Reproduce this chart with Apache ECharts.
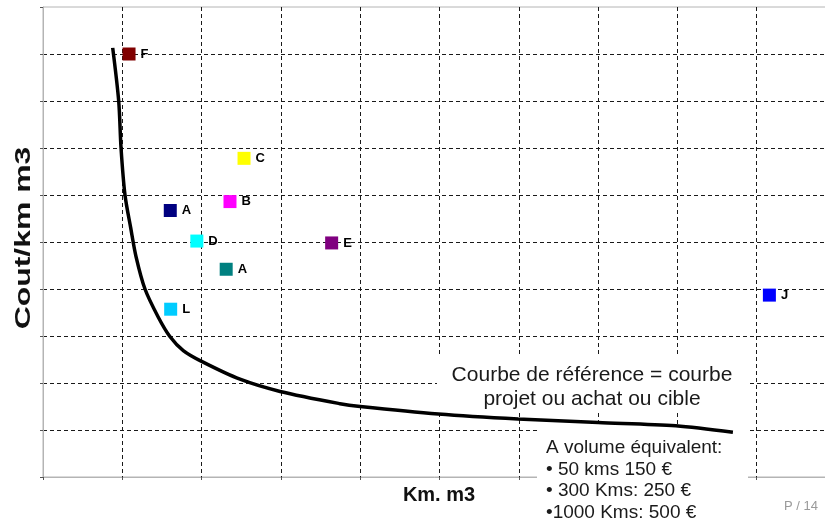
<!DOCTYPE html>
<html>
<head>
<meta charset="utf-8">
<script src="https://cdn.jsdelivr.net/npm/echarts@6/dist/echarts.min.js"></script>
<style>
  html, body { margin: 0; padding: 0; background: #fff; }
  #chart { width: 825px; height: 518px; }
</style>
</head>
<body>
<div id="chart"></div>
<script>
// Supplier / project points: volume (Km. m3) vs unit cost (Cout/km m3), in grid units
const pointNames = ['F', 'A', 'D', 'L', 'C', 'B', 'A', 'E', 'J'];
const pointX = [1.085, 1.605, 1.94, 1.61, 2.535, 2.358, 2.31, 3.64, 9.16];
const pointY = [9.0, 5.67, 5.02, 3.57, 6.78, 5.86, 4.42, 4.98, 3.87];

// Reference curve (projet / achat / cible)
const curveX = [0.879, 0.955, 0.984, 1.034, 1.106, 1.173, 1.286, 1.454, 1.6, 1.769, 2.0, 2.484, 2.99, 3.745, 4.0, 4.985, 5.99, 7.0, 7.98, 8.7];
const curveY = [9.13, 7.99, 7.0, 6.0, 5.3, 4.69, 4.0, 3.4, 2.99, 2.69, 2.46, 2.08, 1.82, 1.56, 1.5, 1.34, 1.234, 1.16, 1.09, 0.95];

// Axis ticks (no labels shown, gridlines only)
const xTicks = [0, 10, 1];
const yTicks = [0, 10, 1];

const markerColors = ['#800000', '#000080', '#00ffff', '#00ccff', '#ffff00', '#ff00ff', '#008080', '#800080', '#0000ff'];

const chart = echarts.init(document.getElementById('chart'), null, { renderer: 'canvas' });

const gridLine = { show: true, showMinLine: false, showMaxLine: false, lineStyle: { color: '#1a1a1a', type: [4, 3], width: 1 } };
const frame = { show: true, lineStyle: { color: '#b4b4b4', width: 1 } };

chart.setOption({
  backgroundColor: '#ffffff',
  animation: false,
  grid: {
    left: 43, top: 7, width: 793, height: 470,
    outerBoundsMode: 'none', containLabel: false,
    show: true, borderColor: '#b4b4b4', borderWidth: 1, backgroundColor: 'transparent'
  },
  xAxis: {
    type: 'value', min: xTicks[0], max: xTicks[1], interval: xTicks[2],
    axisLine: frame, axisLabel: { show: false },
    axisTick: { show: true, length: 3, lineStyle: { color: '#555' } },
    splitLine: gridLine
  },
  yAxis: {
    type: 'value', min: yTicks[0], max: yTicks[1], interval: yTicks[2],
    axisLine: frame, axisLabel: { show: false },
    axisTick: { show: true, length: 3, lineStyle: { color: '#555' } },
    splitLine: gridLine
  },
  series: [
    {
      type: 'line',
      data: curveX.map((x, i) => [x, curveY[i]]),
      smooth: 0.3,
      showSymbol: false,
      z: 5,
      lineStyle: { color: '#000', width: 3.5 }
    },
    {
      type: 'scatter',
      symbol: 'rect',
      symbolSize: 13,
      z: 6,
      itemStyle: { opacity: 1 },
      data: pointNames.map((n, i) => ({
        name: n,
        value: [pointX[i], pointY[i]],
        itemStyle: { color: markerColors[i], opacity: 1 }
      })),
      label: {
        show: true, position: 'right', distance: 5,
        formatter: p => p.name,
        color: '#000', fontWeight: 'bold', fontSize: 13,
        fontFamily: 'Liberation Sans, Arial, sans-serif'
      }
    }
  ],
  graphic: [
    { type: 'rect', z: 3, shape: { x: 437, y: 355, width: 311, height: 58 }, style: { fill: '#fff' } },
    { type: 'rect', z: 3, shape: { x: 537, y: 425, width: 211, height: 100 }, style: { fill: '#fff' } },
    {
      type: 'text', z: 7, x: 592, y: 363,
      style: {
        text: 'Courbe de référence = courbe\nprojet ou achat ou cible',
        fill: '#1a1a1a', font: '21px "Liberation Sans", Arial, sans-serif',
        align: 'center', lineHeight: 24
      }
    },
    {
      type: 'text', z: 7, x: 546, y: 437,
      style: {
        text: 'A volume équivalent:\n• 50 kms 150 €\n• 300 Kms: 250 €\n•1000 Kms: 500 €',
        fill: '#1a1a1a', font: '19px "Liberation Sans", Arial, sans-serif',
        align: 'left', lineHeight: 21.7
      }
    },
    {
      type: 'text', z: 7, x: 439, y: 495,
      style: {
        text: 'Km. m3', fill: '#111', font: 'bold 20px "Liberation Sans", Arial, sans-serif',
        align: 'center', verticalAlign: 'middle'
      }
    },
    {
      type: 'text', z: 7, x: 24, y: 238, rotation: Math.PI / 2, scaleX: 1.45,
      style: {
        text: 'Cout/km m3', fill: '#111', font: 'bold 22px "Liberation Sans", Arial, sans-serif',
        align: 'center', verticalAlign: 'middle'
      }
    },
    {
      type: 'text', z: 7, x: 818, y: 506,
      style: {
        text: 'P / 14', fill: '#9a9a9a', font: '13px "Liberation Sans", Arial, sans-serif',
        align: 'right', verticalAlign: 'middle'
      }
    }
  ]
});
</script>
</body>
</html>
